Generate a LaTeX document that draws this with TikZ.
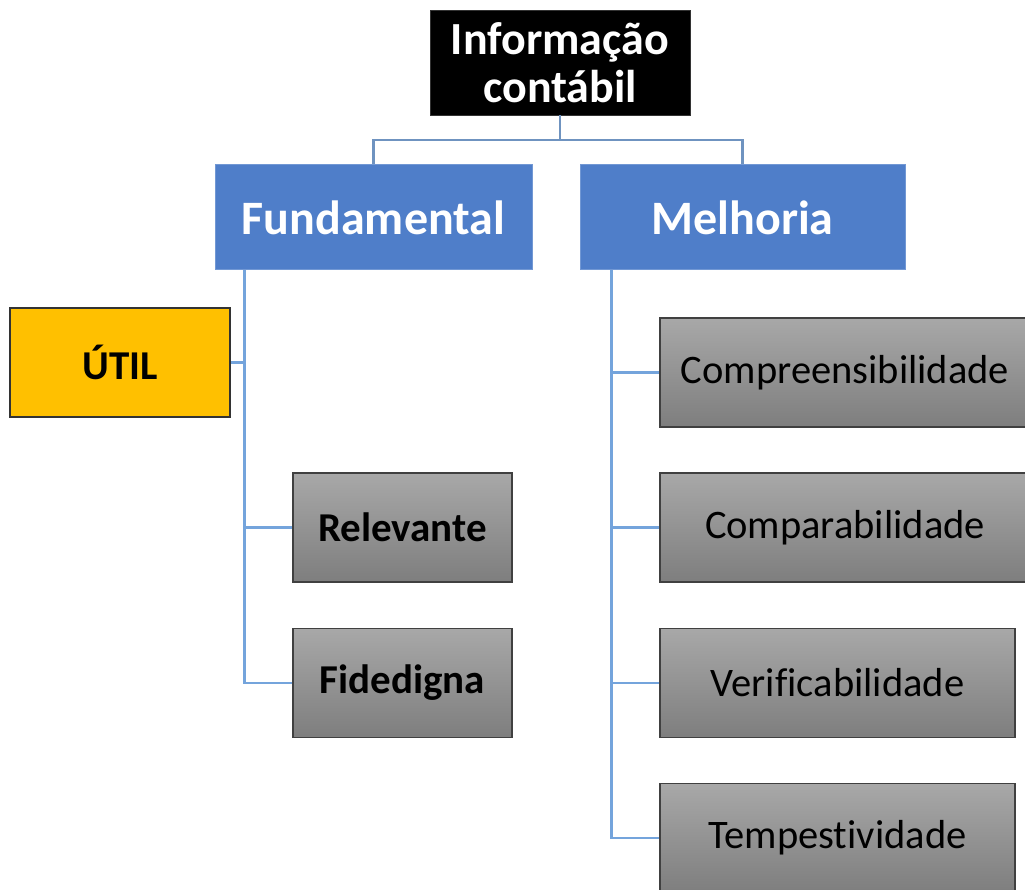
\documentclass[tikz,border=0pt]{standalone}
\usepackage{fontspec}
\setmainfont[Ligatures = NoCommon]{Carlito}
\usepackage{tikz}
\usetikzlibrary{calc, positioning}

\definecolor{boxBlue}{HTML}{4F7EC9}
\definecolor{boxGold}{HTML}{FFC000}
\definecolor{grayTop}{HTML}{A8A8A8}
\definecolor{grayBot}{HTML}{7E7E7E}
\definecolor{linkBlue}{HTML}{74A4DC}
\definecolor{topLink}{HTML}{6F93C0}

\tikzset{
	link/.style = {draw = linkBlue, line width = 2.2pt},
	headbox/.style = {fill = boxBlue, draw = boxBlue!80!white, line width = 1pt, text = white, font = \bfseries\fontsize{48}{52}\selectfont, minimum height = 105pt},
	graybox/.style = {top color = grayTop, bottom color = grayBot, draw = black!75, line width = 1.4pt, minimum height = 109pt, font = \fontsize{40.5}{44}\selectfont},
}

\begin{document}
\begin{tikzpicture}[x = 1pt, y = -1pt]
					\def\xMAX{1025};
					\def\yMAX{890};

					\def\leftW{219};
					\def\rightW{370};
					\def\rightWs{355};

					\newcommand{\drawBranch}[3]
					{
						\draw [link] ([xshift = #2]#1.south west) |- (#3)
					}

					\fill [white] (0,0) rectangle (\xMAX,\yMAX);
					\clip (0,0) rectangle (\xMAX,\yMAX);

					\node [fill = black, draw = black!80, text = white, align = center, font = \bfseries\fontsize{46}{48}\selectfont, minimum width = 260pt, minimum height = 105pt, inner sep = 0pt] (info) at (560,62.5) {Informação\\contábil};

					\begin{scope}[every node/.style = headbox]
						\node [minimum width = 317pt] (fund) at (373.5,217.5) {Fundamental};
						\node [minimum width = 325pt] (melh) at (742.5,217.5) {Melhoria};
					\end{scope}

					\node [fill = boxGold, draw = black!80, line width = 1.4pt, font = \bfseries\fontsize{41}{44}\selectfont, minimum width = 220pt, minimum height = 109pt] (util) at (120,362.5) {ÚTIL};

					\begin{scope}[every node/.style = graybox]
						\node [minimum width = \leftW pt, font = \bfseries\fontsize{41}{44}\selectfont] (rel) at (402.5,527.5) {Relevante};
						\node [minimum width = \leftW pt, font = \bfseries\fontsize{41}{44}\selectfont] (fid) at (402.5,683) {Fidedigna};
						\node [minimum width = \rightW pt] (comp) at (845,372.5) {Compreensibilidade};
						\node [minimum width = \rightW pt] (compar) at (845,527.5) {Comparabilidade};
						\node [minimum width = \rightWs pt] (verif) at (837.5,683) {Verificabilidade};
						\node [minimum width = \rightWs pt] (temp) at (837.5,838) {Tempestividade};
					\end{scope}

					\begin{scope}[draw = topLink, line width = 2.2pt]
						\draw (info.south) -- ++(0,25) -| (fund.north);
						\draw (info.south) -- ++(0,25) -| (melh.north);
					\end{scope}

					\drawBranch{fund}{30pt}{util.east};
					\drawBranch{fund}{30pt}{rel.west};
					\drawBranch{fund}{30pt}{fid.west};

					\drawBranch{melh}{32pt}{comp.west};
					\drawBranch{melh}{32pt}{compar.west};
					\drawBranch{melh}{32pt}{verif.west};
					\drawBranch{melh}{32pt}{temp.west};

				\end{tikzpicture}
\end{document}
